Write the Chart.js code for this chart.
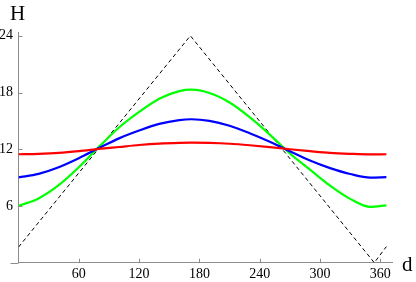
<!DOCTYPE html>
<html>
<head>
<meta charset="utf-8">
<script src="https://cdn.jsdelivr.net/npm/chart.js@4/dist/chart.umd.min.js"></script>
<style>
  html, body { margin: 0; padding: 0; background: #fff; }
</style>
</head>
<body>
<canvas id="myChart" width="416" height="282"></canvas>
<script>
'use strict';

// ***** DATA *****
const days = [0, 20, 40, 60, 80, 100, 120, 140, 160, 172, 190, 210, 230, 250, 270, 290, 310, 330, 350, 366];
const hoursRed = [11.47, 11.52, 11.62, 11.8, 12.03, 12.24, 12.45, 12.6, 12.68, 12.7, 12.67, 12.58, 12.42, 12.22, 12.0, 11.8, 11.62, 11.52, 11.46, 11.47];
const hoursBlue = [9.02, 9.4, 10.1, 11.05, 12.12, 13.15, 13.98, 14.68, 15.08, 15.17, 15.0, 14.48, 13.7, 12.8, 11.78, 10.8, 10.0, 9.38, 9.0, 9.05];
const hoursGreen = [6.0, 6.8, 8.2, 10.1, 12.25, 14.3, 15.95, 17.35, 18.15, 18.3, 17.95, 16.95, 15.4, 13.55, 11.55, 9.85, 8.15, 6.75, 5.9, 6.07];

// dashed limit line
const limitDays = [0, 171, 354, 366];
const limitHours = [1.65, 24, 0, 1.7];

const xTicks = [60, 120, 180, 240, 300, 360];
const yTicks = [6, 12, 18, 24];

const axisColor = '#8c8c8c';
const serif = '"Liberation Serif", "DejaVu Serif", serif';

function toPoints(xs, ys) {
  return xs.map((x, i) => ({ x: x, y: ys[i] }));
}

function curve(data, color) {
  return {
    data: data,
    showLine: true,
    borderColor: color,
    borderWidth: 2.2,
    pointRadius: 0,
    cubicInterpolationMode: 'monotone',
    fill: false
  };
}

// inward tick marks, short x-axis stub left of origin, axis letters
const axisExtras = {
  id: 'axisExtras',
  afterDraw(chart) {
    const { ctx, chartArea, scales } = chart;
    const x0 = scales.x.getPixelForValue(0);
    const y0 = scales.y.getPixelForValue(0);
    ctx.save();
    ctx.strokeStyle = axisColor;
    ctx.lineWidth = 1;
    ctx.beginPath();
    const yb = Math.round(y0) + 0.5;
    ctx.moveTo(x0 - 8, yb);
    ctx.lineTo(x0, yb);
    xTicks.forEach(v => {
      const px = Math.round(scales.x.getPixelForValue(v)) + 0.5;
      ctx.moveTo(px, y0);
      ctx.lineTo(px, y0 - 4);
    });
    yTicks.forEach(v => {
      const py = Math.round(scales.y.getPixelForValue(v)) + 0.5;
      ctx.moveTo(x0, py);
      ctx.lineTo(x0 + 4, py);
    });
    ctx.stroke();

    ctx.fillStyle = '#000';
    ctx.font = '21px ' + serif;
    ctx.textBaseline = 'alphabetic';
    ctx.textAlign = 'left';
    ctx.fillText('H', x0 - 8.5, 20);
    ctx.fillText('d', chartArea.right + 9.5, y0 + 8);
    ctx.restore();
  }
};

const ctx = document.getElementById('myChart').getContext('2d');

const myChart = new Chart(ctx, {
  type: 'scatter',
  data: {
    datasets: [
      curve(toPoints(days, hoursRed), '#ff0000'),
      curve(toPoints(days, hoursBlue), '#0000ff'),
      curve(toPoints(days, hoursGreen), '#00ff00'),
      {
        data: toPoints(limitDays, limitHours),
        showLine: true,
        borderColor: '#000',
        borderWidth: 1,
        borderDash: [4, 3],
        pointRadius: 0,
        tension: 0
      }
    ]
  },
  options: {
    responsive: false,
    animation: false,
    devicePixelRatio: 1,
    layout: { padding: { left: 0, right: 23.6, top: 32, bottom: 0 } },
    plugins: {
      legend: { display: false },
      tooltip: { enabled: false },
      title: { display: false }
    },
    scales: {
      x: {
        type: 'linear',
        position: 'bottom',
        min: 0,
        max: 372,
        afterBuildTicks: s => { s.ticks = xTicks.map(v => ({ value: v })); },
        afterFit: s => { s.height = 19.3; },
        grid: { display: true, drawOnChartArea: false, drawTicks: false },
        border: { display: true, color: axisColor, width: 1 },
        ticks: {
          color: '#000',
          padding: 3,
          maxRotation: 0,
          font: { family: serif, size: 14 }
        }
      },
      y: {
        type: 'linear',
        position: 'left',
        min: 0,
        max: 24.4,
        afterBuildTicks: s => { s.ticks = yTicks.map(v => ({ value: v })); },
        afterFit: s => { s.width = 18.5; },
        grid: { display: true, drawOnChartArea: false, drawTicks: false },
        border: { display: true, color: axisColor, width: 1 },
        ticks: {
          color: '#000',
          padding: 5.5,
          font: { family: serif, size: 14 }
        }
      }
    }
  },
  plugins: [axisExtras]
});
</script>
</body>
</html>
